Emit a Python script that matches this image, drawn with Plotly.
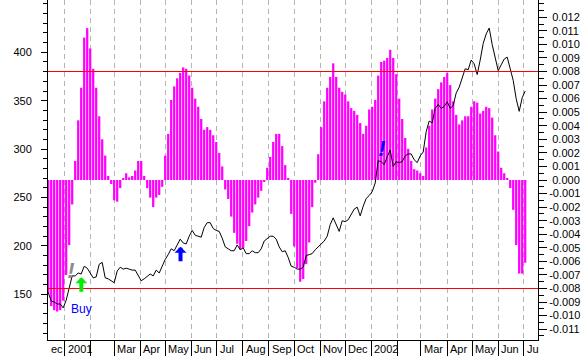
import pandas as pd
import plotly.graph_objects as go

# ---- data (price on left axis, oscillator on right axis) ----
price = [152, 143, 142, 140, 140, 136, 144, 158, 169, 169,
         172, 171, 179, 177, 172, 167, 168, 181, 183, 167,
         166, 164, 162, 174, 178, 176, 177, 176, 175, 175,
         170, 164, 166, 169, 171, 169, 175, 172, 180, 186,
         191, 197, 195, 201, 207, 203, 202, 210, 216, 211,
         210, 209, 219, 224, 224, 218, 216, 215, 208, 199,
         197, 195, 195, 201, 196, 198, 192, 192, 195, 193,
         193, 197, 205, 208, 210, 210, 207, 199, 194, 195,
         188, 179, 178, 176, 176, 178, 190, 191, 192, 196,
         199, 201, 205, 210, 222, 229, 222, 215, 226, 225,
         227, 233, 238, 240, 231, 241, 249, 252, 256, 265,
         288, 287, 284, 292, 299, 282, 287, 286, 287, 293,
         295, 295, 289, 286, 293, 297, 318, 329, 327, 342,
         346, 342, 344, 349, 342, 345, 358, 364, 374, 383,
         382, 392, 388, 377, 392, 409, 419, 425, 408, 396,
         381, 387, 393, 395, 383, 371, 352, 339, 353, 360]

osc = [-0.0084, -0.0093, -0.0096, -0.0097, -0.0096, -0.0089, -0.0070, -0.0048, -0.0018, 0.0014,
       0.0044, 0.0068, 0.0105, 0.0112, 0.0097, 0.0082, 0.0068, 0.0047, 0.0030, 0.0018,
       0.0003, -0.0003, -0.0015, -0.0016, -0.0006, 0.0001, 0.0005, 0.0002, 0.0003, 0.0007,
       0.0014, 0.0014, 0.0003, -0.0006, -0.0013, -0.0020, -0.0013, -0.0011, -0.0005, 0.0018,
       0.0034, 0.0059, 0.0069, 0.0075, 0.0079, 0.0083, 0.0082, 0.0077, 0.0068, 0.0060,
       0.0054, 0.0045, 0.0037, 0.0039, 0.0037, 0.0033, 0.0028, 0.0020, 0.0010, -0.0007,
       -0.0014, -0.0027, -0.0039, -0.0047, -0.0051, -0.0050, -0.0045, -0.0034, -0.0024, -0.0018,
       -0.0013, -0.0008, -0.0001, 0.0009, 0.0017, 0.0028, 0.0034, 0.0034, 0.0025, 0.0011,
       0.0001, -0.0025, -0.0049, -0.0065, -0.0075, -0.0073, -0.0062, -0.0046, -0.0020, -0.0002,
       0.0019, 0.0039, 0.0058, 0.0068, 0.0076, 0.0086, 0.0076, 0.0068, 0.0065, 0.0063,
       0.0058, 0.0053, 0.0051, 0.0048, 0.0042, 0.0034, 0.0040, 0.0052, 0.0054, 0.0059,
       0.0077, 0.0087, 0.0088, 0.0090, 0.0096, 0.0090, 0.0078, 0.0060, 0.0045, 0.0031,
       0.0023, 0.0014, 0.0008, 0.0007, 0.0005, 0.0003, 0.0024, 0.0040, 0.0052, 0.0060,
       0.0067, 0.0072, 0.0076, 0.0079, 0.0070, 0.0058, 0.0048, 0.0041, 0.0044, 0.0047,
       0.0047, 0.0054, 0.0058, 0.0057, 0.0049, 0.0051, 0.0054, 0.0053, 0.0046, 0.0033,
       0.0021, 0.0009, 0.0005, 0.0001, -0.0006, -0.0022, -0.0048, -0.0069, -0.0069, -0.0061]

series_start = "2000-12-12 14:40"
series_step_days = 3.5684

month_starts = list(pd.date_range("2001-01-01", "2002-07-01", freq="MS"))
month_labels = ["2001", "", "Mar", "Apr", "May", "Jun", "Jul", "Aug", "Sep", "Oct",
                "Nov", "Dec", "2002", "", "Mar", "Apr", "May", "Jun", "Ju"]
first_label = "ec"

left_ticks = [150, 200, 250, 300, 350, 400]
right_ticks = [k / 1000 for k in range(-11, 13)]
right_text = [("\u00a0" if v >= 0 else "") + f"{v:.3f}" for v in right_ticks]

levels = [0.008, -0.008]

buy_dates = ["2001-01-21"]
buy_prices = [167.6]
up_dates = ["2001-05-19"]
up_prices = [199.2]
alert_dates = ["2001-01-08 17:00", "2002-01-13 16:00"]
alert_prices = [173.0, 298.6]
alert_colors = ["#8c8c8c", "#0000ff"]

# ---- figure ----
start = pd.Timestamp(series_start)
step = pd.Timedelta(days=series_step_days)
dates = [start + step * i for i in range(len(price))]
osc_dates = [start + step * i for i in range(len(osc))]

FONT = "Liberation Sans, Arial, sans-serif"

fig = go.Figure()
fig.add_trace(go.Bar(x=osc_dates, y=osc, yaxis="y", marker=dict(color="#ff00ff", line=dict(width=0)),
                     hoverinfo="skip"))
fig.add_trace(go.Scatter(x=dates, y=price, yaxis="y2", mode="lines",
                         line=dict(color="black", width=1)))
fig.add_trace(go.Scatter(x=alert_dates, y=alert_prices, yaxis="y2", mode="text",
                         text=["<b><i>!</i></b>"] * len(alert_dates), textposition="middle center",
                         textfont=dict(family=FONT, size=22, color=alert_colors),
                         hoverinfo="skip", cliponaxis=False))

shapes = []
for lv in levels:
    shapes.append(dict(type="line", xref="paper", x0=0, x1=1, yref="y", y0=lv, y1=lv,
                       line=dict(color="#ff0000", width=1), layer="above"))

ann = []
for d, t in zip(month_starts, month_labels):
    if t:
        ann.append(dict(x=d, y=0, xref="x", yref="paper", text=t, showarrow=False,
                        xanchor="left", yanchor="top", xshift=1, yshift=-1,
                        font=dict(family=FONT, size=11, color="black")))
ann.append(dict(x=0, y=0, xref="paper", yref="paper", text=first_label, showarrow=False,
                xanchor="left", yanchor="top", xshift=1, yshift=-1,
                font=dict(family=FONT, size=11, color="black")))
for d, p in zip(buy_dates, buy_prices):
    ann.append(dict(x=d, y=p, xref="x", yref="y2", text="", showarrow=True, arrowhead=1,
                    arrowsize=0.5, arrowwidth=4, arrowcolor="#00ee00", ax=0, ay=16))
    ann.append(dict(x=d, y=p, xref="x", yref="y2", text="Buy", showarrow=False,
                    xanchor="center", yanchor="top", yshift=-23,
                    font=dict(family=FONT, size=12, color="#0000ff")))
for d, p in zip(up_dates, up_prices):
    ann.append(dict(x=d, y=p, xref="x", yref="y2", text="", showarrow=True, arrowhead=1,
                    arrowsize=0.5, arrowwidth=4, arrowcolor="#0000ff", ax=0, ay=16))

fig.update_layout(
    width=587, height=356,
    margin=dict(l=48, r=49, t=0, b=16, pad=0),
    paper_bgcolor="white", plot_bgcolor="white",
    showlegend=False, bargap=0.25,
    font=dict(family=FONT, size=11, color="black"),
    xaxis=dict(type="date", range=["2000-12-12 09:00", "2002-07-18 05:00"],
               tickmode="array", tickvals=month_starts, showticklabels=False,
               ticks="outside", ticklen=16, tickcolor="black", tickwidth=1,
               showgrid=True, gridcolor="#b4b4b4", griddash="5px,4px", gridwidth=1,
               showline=True, linecolor="black", linewidth=1, zeroline=False),
    yaxis=dict(side="right", range=[-0.011797, 0.013272],
               tickmode="array", tickvals=right_ticks, ticktext=right_text,
               ticks="outside", ticklen=8, tickcolor="black",
               minor=dict(tickmode="linear", tick0=0, dtick=0.0005, ticks="outside",
                          ticklen=5, tickcolor="black"),
               showgrid=False, zeroline=False, showline=True, linecolor="black",
               tickfont=dict(family=FONT, size=11, color="black")),
    yaxis2=dict(side="left", overlaying="y", range=[102.8, 454.0],
                tickmode="array", tickvals=left_ticks,
                ticks="outside", ticklen=6, tickcolor="black",
                minor=dict(tickmode="linear", tick0=0, dtick=10, ticks="outside",
                           ticklen=4, tickcolor="black"),
                showgrid=False, zeroline=False, showline=True, linecolor="black",
                ticklabelstandoff=7,
                tickfont=dict(family=FONT, size=11, color="black")),
    shapes=shapes, annotations=ann,
)

fig.write_html("out.html", config={"displayModeBar": False},
               post_script="document.body.style.margin='0px';")
